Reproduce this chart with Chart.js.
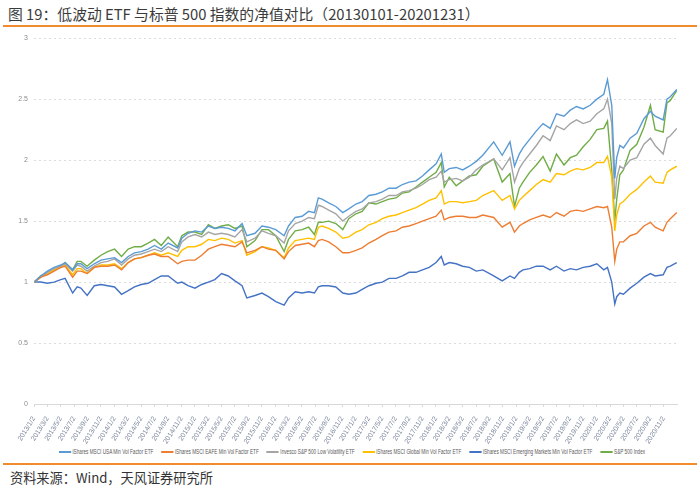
<!DOCTYPE html>
<html>
<head>
<meta charset="utf-8">
<script src="https://cdn.jsdelivr.net/npm/chart.js@4.4.1/dist/chart.umd.min.js"></script>
<style>
  html, body { margin: 0; padding: 0; background: #fff; }
  body { width: 700px; height: 492px; position: relative; overflow: hidden; font-family: "Noto Sans CJK SC", sans-serif; }
  #title { position: absolute; left: 8px; top: 3px; font-size: 14.8px; color: #3b3b3b; white-space: nowrap; }
  .rule { position: absolute; left: 3px; width: 694px; height: 2px; background: #f08c2e; }
  #source { position: absolute; left: 10px; top: 468px; font-size: 13.2px; color: #333; white-space: nowrap; }
  #wrap { position: absolute; left: 0; top: 28px; width: 700px; height: 416px; }
  #legend { position: absolute; left: -98px; top: 447px; width: 900px; text-align: center; white-space: nowrap;
            transform: scaleX(0.72); transform-origin: 50% 0; font-family: "Liberation Sans", sans-serif;
            font-size: 6.5px; line-height: 9px; color: #595959; }
  #legend .item { display: inline-block; margin: 0 5.5px; }
  #legend .sw { display: inline-block; width: 17px; height: 2px; vertical-align: middle; margin-right: 2px; }
</style>
</head>
<body>
<div id="title">图 19：低波动 ETF 与标普 500 指数的净值对比（20130101-20201231）</div>
<div class="rule" style="top:25px"></div>
<div id="wrap"><canvas id="navChart"></canvas></div>
<div id="legend"></div>
<div class="rule" style="top:463px"></div>
<div id="source">资料来源：Wind，天风证券研究所</div>

<script>
// observation dates (roughly monthly, plus turning points)
const dates = [
  '2013-01-02','2013-02-01','2013-03-01','2013-04-01','2013-05-01','2013-05-21','2013-06-24','2013-07-15','2013-08-01','2013-08-30',
  '2013-10-01','2013-11-01','2013-12-01','2014-01-02','2014-02-03','2014-03-03','2014-04-01','2014-05-01','2014-06-02','2014-07-01',
  '2014-08-01','2014-09-02','2014-10-15','2014-11-03','2014-12-01','2015-01-02','2015-02-02','2015-03-02','2015-04-01','2015-05-01',
  '2015-06-01','2015-07-01','2015-08-03','2015-08-25','2015-10-01','2015-11-02','2015-12-01','2016-01-04','2016-02-11','2016-03-01',
  '2016-04-01','2016-05-02','2016-06-01','2016-06-27','2016-07-15','2016-08-01','2016-09-01','2016-10-03','2016-11-04','2016-12-01',
  '2017-01-03','2017-02-01','2017-03-01','2017-04-03','2017-05-01','2017-06-01','2017-07-03','2017-08-01','2017-09-01','2017-10-02',
  '2017-11-01','2017-12-01','2018-01-02','2018-01-26','2018-02-08','2018-03-01','2018-04-02','2018-05-01','2018-06-01','2018-07-02',
  '2018-08-01','2018-09-20','2018-10-29','2018-12-03','2018-12-24','2019-01-15','2019-02-01','2019-03-01','2019-04-01','2019-05-01',
  '2019-06-03','2019-07-01','2019-08-05','2019-09-03','2019-10-01','2019-11-01','2019-12-02','2020-01-02','2020-02-03','2020-02-19',
  '2020-03-09','2020-03-23','2020-04-01','2020-04-15','2020-05-01','2020-06-01','2020-07-01','2020-08-03','2020-09-02','2020-09-23',
  '2020-10-30','2020-11-16','2020-12-01','2020-12-31'
];

const usaMinVol = [
  1.00,1.05,1.09,1.12,1.14,1.16,1.10,1.15,1.15,1.11,
  1.15,1.18,1.19,1.20,1.16,1.21,1.24,1.25,1.27,1.30,
  1.27,1.32,1.28,1.36,1.40,1.42,1.41,1.46,1.44,1.45,
  1.44,1.42,1.48,1.38,1.40,1.46,1.45,1.43,1.38,1.46,
  1.53,1.54,1.58,1.57,1.69,1.68,1.65,1.62,1.57,1.60,
  1.64,1.66,1.71,1.72,1.74,1.77,1.77,1.80,1.82,1.83,
  1.87,1.92,1.97,2.05,1.90,1.93,1.94,1.92,1.95,1.99,
  2.04,2.15,2.04,2.15,1.95,2.05,2.10,2.17,2.24,2.30,
  2.26,2.38,2.36,2.41,2.44,2.42,2.45,2.50,2.54,2.66,
  2.45,1.85,2.02,2.12,2.10,2.18,2.22,2.34,2.40,2.36,
  2.33,2.50,2.52,2.58
];
const eafeMinVol = [
  1.00,1.04,1.06,1.09,1.12,1.13,1.04,1.09,1.09,1.07,
  1.12,1.13,1.13,1.14,1.10,1.16,1.19,1.20,1.22,1.23,
  1.21,1.21,1.15,1.17,1.18,1.18,1.22,1.27,1.29,1.31,
  1.30,1.29,1.33,1.24,1.26,1.29,1.27,1.26,1.19,1.25,
  1.30,1.31,1.32,1.29,1.34,1.35,1.33,1.29,1.24,1.24,
  1.26,1.28,1.32,1.35,1.38,1.41,1.42,1.45,1.46,1.48,
  1.50,1.52,1.54,1.59,1.51,1.53,1.54,1.54,1.53,1.53,
  1.55,1.53,1.45,1.49,1.41,1.46,1.48,1.51,1.53,1.55,
  1.53,1.57,1.54,1.58,1.59,1.58,1.60,1.62,1.61,1.62,
  1.45,1.17,1.27,1.33,1.33,1.38,1.40,1.46,1.49,1.45,
  1.42,1.49,1.52,1.57
];
const splv = [
  1.00,1.04,1.08,1.11,1.13,1.15,1.09,1.14,1.13,1.09,
  1.13,1.16,1.17,1.19,1.14,1.19,1.22,1.23,1.25,1.27,
  1.25,1.29,1.25,1.33,1.37,1.39,1.37,1.41,1.39,1.40,
  1.39,1.37,1.43,1.33,1.36,1.42,1.40,1.38,1.32,1.42,
  1.48,1.50,1.53,1.52,1.63,1.62,1.59,1.56,1.50,1.54,
  1.58,1.60,1.65,1.66,1.68,1.71,1.71,1.74,1.75,1.77,
  1.80,1.84,1.86,1.91,1.82,1.84,1.85,1.83,1.86,1.92,
  1.96,2.01,1.92,2.02,1.82,1.93,1.98,2.05,2.12,2.20,
  2.16,2.28,2.25,2.30,2.33,2.30,2.32,2.38,2.42,2.50,
  2.30,1.68,1.85,1.95,1.93,2.00,2.02,2.13,2.18,2.12,
  2.05,2.18,2.20,2.26
];
const globalMinVol = [
  1.00,1.04,1.07,1.10,1.12,1.14,1.06,1.11,1.11,1.07,
  1.12,1.14,1.14,1.15,1.11,1.16,1.19,1.20,1.22,1.24,
  1.22,1.24,1.21,1.26,1.29,1.29,1.31,1.35,1.34,1.36,
  1.35,1.32,1.34,1.22,1.25,1.29,1.28,1.26,1.20,1.28,
  1.34,1.35,1.36,1.35,1.45,1.46,1.44,1.41,1.36,1.37,
  1.41,1.43,1.47,1.49,1.52,1.54,1.55,1.57,1.59,1.61,
  1.64,1.67,1.69,1.75,1.64,1.66,1.66,1.65,1.66,1.67,
  1.71,1.75,1.67,1.71,1.60,1.67,1.70,1.75,1.80,1.84,
  1.82,1.89,1.88,1.91,1.93,1.92,1.94,1.98,1.98,2.03,
  1.86,1.42,1.55,1.64,1.66,1.72,1.76,1.82,1.87,1.82,
  1.81,1.90,1.92,1.95
];
const emMinVol = [
  1.00,1.00,0.99,1.00,1.02,1.03,0.91,0.96,0.95,0.89,
  0.97,0.98,0.97,0.96,0.90,0.93,0.96,0.98,0.99,1.02,
  1.05,1.05,0.99,1.00,0.97,0.95,0.98,1.00,1.02,1.07,
  1.05,1.01,0.97,0.87,0.89,0.91,0.88,0.84,0.81,0.87,
  0.92,0.91,0.92,0.91,0.96,0.97,0.97,0.96,0.91,0.90,
  0.91,0.94,0.97,0.99,1.00,1.03,1.03,1.05,1.08,1.08,
  1.10,1.12,1.16,1.21,1.14,1.16,1.15,1.13,1.12,1.09,
  1.10,1.05,1.01,1.05,1.03,1.08,1.10,1.11,1.13,1.13,
  1.10,1.13,1.09,1.11,1.10,1.12,1.13,1.15,1.10,1.12,
  1.00,0.82,0.88,0.91,0.90,0.95,0.99,1.04,1.07,1.05,
  1.06,1.12,1.13,1.16
];
const sp500 = [
  1.00,1.05,1.07,1.10,1.12,1.16,1.10,1.17,1.17,1.13,
  1.18,1.22,1.25,1.27,1.21,1.27,1.29,1.29,1.32,1.35,
  1.30,1.37,1.29,1.38,1.41,1.41,1.39,1.47,1.44,1.46,
  1.47,1.44,1.46,1.29,1.34,1.43,1.43,1.38,1.25,1.35,
  1.42,1.43,1.45,1.39,1.49,1.49,1.50,1.48,1.43,1.52,
  1.56,1.58,1.65,1.64,1.66,1.68,1.69,1.73,1.74,1.78,
  1.82,1.86,1.90,1.98,1.78,1.86,1.79,1.83,1.87,1.88,
  1.95,2.01,1.82,1.89,1.62,1.77,1.82,1.90,1.96,2.03,
  1.91,2.05,1.96,2.02,2.04,2.11,2.17,2.25,2.26,2.32,
  1.92,1.50,1.68,1.88,1.92,2.08,2.13,2.27,2.45,2.25,
  2.23,2.47,2.49,2.57
];

const seriesNames = [
  'iShares MSCI USA Min Vol Factor ETF',
  'iShares MSCI EAFE Min Vol Factor ETF',
  'Invesco S&P 500 Low Volatility ETF',
  'iShares MSCI Global Min Vol Factor ETF',
  'iShares MSCI Emerging Markets Min Vol Factor ETF',
  'S&P 500 Index'
];
const seriesColors = ['#5b9bd5', '#ed7d31', '#a5a5a5', '#ffc000', '#4472c4', '#70ad47'];
const seriesValues = [usaMinVol, eafeMinVol, splv, globalMinVol, emMinVol, sp500];

const tickLabels = [
  '2013/1/2','2013/3/2','2013/5/2','2013/7/2','2013/9/2','2013/11/2',
  '2014/1/2','2014/3/2','2014/5/2','2014/7/2','2014/9/2','2014/11/2',
  '2015/1/2','2015/3/2','2015/5/2','2015/7/2','2015/9/2','2015/11/2',
  '2016/1/2','2016/3/2','2016/5/2','2016/7/2','2016/9/2','2016/11/2',
  '2017/1/2','2017/3/2','2017/5/2','2017/7/2','2017/9/2','2017/11/2',
  '2018/1/2','2018/3/2','2018/5/2','2018/7/2','2018/9/2','2018/11/2',
  '2019/1/2','2019/3/2','2019/5/2','2019/7/2','2019/9/2','2019/11/2',
  '2020/1/2','2020/3/2','2020/5/2','2020/7/2','2020/9/2','2020/11/2'
];

// date string -> months since 2013-01-01
function monthPos(s) {
  const [y, m, d] = s.split('-').map(Number);
  const dim = new Date(y, m, 0).getDate();
  return (y - 2013) * 12 + (m - 1) + (d - 1) / dim;
}
const xs = dates.map(monthPos);

const axisFont = { family: '"Liberation Sans", sans-serif', size: 7 };

const chart = new Chart(document.getElementById('navChart'), {
  type: 'line',
  data: {
    datasets: seriesNames.map((name, i) => ({
      label: name,
      data: seriesValues[i].map((v, j) => ({ x: xs[j], y: v })),
      borderColor: seriesColors[i],
      backgroundColor: seriesColors[i],
      borderWidth: 1.4,
      pointRadius: 0,
      tension: 0
    }))
  },
  options: {
    responsive: true,
    maintainAspectRatio: false,
    animation: false,
    layout: { padding: { top: 10, right: 23, left: 0, bottom: 0 } },
    plugins: {
      legend: { display: false },
      tooltip: { enabled: false }
    },
    scales: {
      x: {
        type: 'linear',
        min: 0,
        max: 96,
        afterBuildTicks: axis => {
          axis.ticks = tickLabels.map((_, i) => ({ value: i * 2 }));
        },
        afterFit: scale => { scale.height = 40; },
        ticks: {
          autoSkip: false,
          minRotation: 58,
          maxRotation: 58,
          padding: 8,
          color: '#7a869a',
          font: axisFont,
          callback: v => tickLabels[Math.round(v / 2)]
        },
        grid: { drawOnChartArea: false, drawTicks: true, tickLength: 3, color: '#d9d9d9' },
        border: { color: '#d9d9d9' }
      },
      y: {
        min: 0,
        max: 3,
        afterFit: scale => { scale.width = 34; },
        ticks: {
          stepSize: 0.5,
          padding: 6,
          color: '#8c8c8c',
          font: axisFont,
          callback: v => String(v)
        },
        grid: { color: '#dcdcdc', drawTicks: false },
        border: { display: false, dash: [2, 3] }
      }
    }
  }
});

// legend in one condensed row, built from the chart's datasets
const legendBox = document.getElementById('legend');
chart.data.datasets.forEach(ds => {
  const item = document.createElement('span');
  item.className = 'item';
  const sw = document.createElement('span');
  sw.className = 'sw';
  sw.style.background = ds.borderColor;
  item.appendChild(sw);
  item.appendChild(document.createTextNode(ds.label));
  legendBox.appendChild(item);
});
</script>
</body>
</html>
